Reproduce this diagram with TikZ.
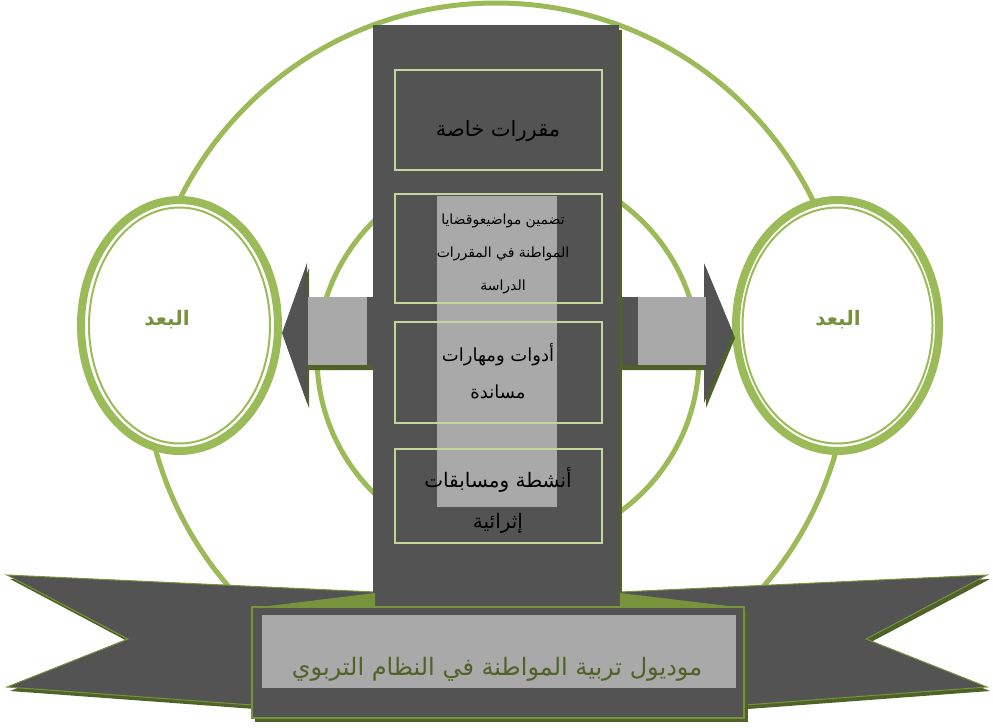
\documentclass[tikz,border=0pt]{standalone}
\usepackage{fontspec}
\newfontfamily\arabicfont[Script=Arabic]{DejaVu Sans}
\TeXXeTstate=1
\definecolor{ringgreen}{HTML}{9BBB59}
\definecolor{darkgrey}{HTML}{535353}
\definecolor{lightgrey}{HTML}{A9A9A9}
\definecolor{shadowgreen}{HTML}{4F6228}
\definecolor{foldgreen}{HTML}{77933C}
\definecolor{boxline}{HTML}{C3D69B}
\definecolor{labelgreen}{HTML}{76923C}
\tikzset{
  ringline/.style={draw=ringgreen, line width=5},
  ringthick/.style={draw=ringgreen, line width=8, fill=white},
  ringthin/.style={draw=ringgreen, line width=2},
  darkpart/.style={fill=darkgrey},
  shadowpart/.style={fill=shadowgreen},
  lightpart/.style={fill=lightgrey},
  itembox/.style={draw=boxline, line width=2},
  itemtext/.style={text=black, align=center, inner sep=0pt},
  dimtext/.style={text=labelgreen, inner sep=0pt, font=\arabicfont\bfseries\fontsize{20}{24}\selectfont},
}
\begin{document}
\begin{tikzpicture}[x=1pt,y=-1pt]
\useasboundingbox (0,0) rectangle (993,728);

% background rings
\draw[ringline] (496,356) circle [radius=353];
\draw[ringline] (508,357) circle [radius=191];

% the two side ellipses
\draw[ringthick] (179.5,325.5) ellipse [x radius=98.5, y radius=125.5];
\draw[ringthin] (179.5,325.5) ellipse [x radius=90.5, y radius=118];
\draw[ringthick] (837.5,325.5) ellipse [x radius=101.5, y radius=125.5];
\draw[ringthin] (837.5,325.5) ellipse [x radius=95, y radius=118];
\node[dimtext] (dimL) at (167,320) {\beginR البعد\endR};
\node[dimtext] (dimR) at (838,320) {\beginR البعد\endR};

% block arrows towards the ellipses
\fill[shadowpart, shift={(2,5)}] (373,297) -- (307,297) -- (307,263) -- (282,333) -- (307,403) -- (307,365) -- (373,365) -- cycle;
\fill[darkpart] (373,297) -- (307,297) -- (307,263) -- (282,333) -- (307,403) -- (307,365) -- (373,365) -- cycle;
\fill[lightpart] (308,297) rectangle (367,365);
\fill[shadowpart, shift={(2,5)}] (620,297) -- (704,297) -- (704,263) -- (733,333) -- (704,403) -- (704,365) -- (620,365) -- cycle;
\fill[darkpart] (620,297) -- (704,297) -- (704,263) -- (733,333) -- (704,403) -- (704,365) -- (620,365) -- cycle;
\fill[lightpart] (638,297) rectangle (706,365);

% ribbon behind the title
\fill[shadowpart, shift={(3,4)}] (7,575) -- (375,592) -- (620,592) -- (987,575) -- (866,639) -- (987,687) -- (745,705) -- (252,705) -- (7,687) -- (128,639) -- cycle;
\filldraw[darkpart, draw=foldgreen, line width=1] (7,575) -- (375,592) -- (620,592) -- (987,575) -- (866,639) -- (987,687) -- (745,705) -- (252,705) -- (7,687) -- (128,639) -- cycle;

% central column
\fill[shadowpart] (376,30) rectangle (622,613);
\fill[darkpart] (373,25) rectangle (619,610);
\fill[lightpart] (437,196) rectangle (557,507);

\draw[itembox] (395,70) rectangle (602,170);
\draw[itembox] (395,194) rectangle (602,303);
\draw[itembox] (395,322) rectangle (602,423);
\draw[itembox] (395,449) rectangle (602,543);

\node[itemtext, font=\arabicfont\fontsize{21}{25}\selectfont] (item1) at (498,131) {\beginR مقررات خاصة\endR};
\node[itemtext, font=\arabicfont\fontsize{14}{33}\selectfont] (item2) at (503,254) {\beginR تضمين مواضيعوقضايا\endR\\\beginR المواطنة في المقررات\endR\\\beginR الدراسة\endR};
\node[itemtext, font=\arabicfont\fontsize{18}{37}\selectfont] (item3) at (498,371) {\beginR أدوات ومهارات\endR\\\beginR مساندة\endR};
\node[itemtext, font=\arabicfont\fontsize{20}{41}\selectfont] (item4) at (498,500) {\beginR أنشطة ومسابقات\endR\\\beginR إثرائية\endR};

% folds of the ribbon
\fill[foldgreen] (252,608) -- (375,593) -- (375,610) -- cycle;
\fill[foldgreen] (620,593) -- (745,608) -- (620,610) -- cycle;

% front panel with the title
\fill[shadowpart] (255,611) rectangle (748,722);
\filldraw[darkpart, draw=foldgreen, line width=1.2] (252,607) rectangle (744,718);
\fill[lightpart] (262,615) rectangle (736,688);
\node[text=shadowgreen, inner sep=0pt, font=\arabicfont\fontsize{24}{28}\selectfont] (title) at (497,669) {\beginR موديول تربية المواطنة في النظام التربوي\endR};
\end{tikzpicture}
\end{document}
